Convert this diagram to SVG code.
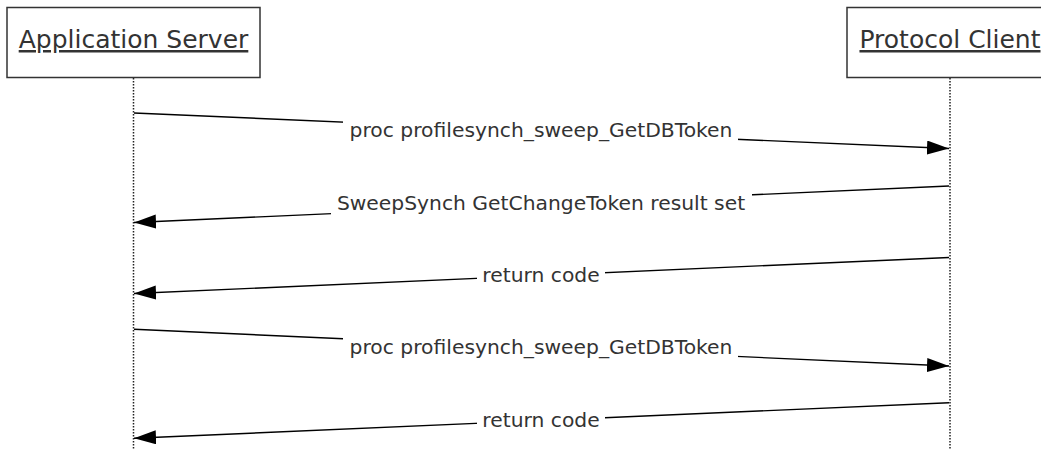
<svg xmlns="http://www.w3.org/2000/svg" width="1041" height="449" viewBox="0 0 1041 449">
<defs>
<style>
.box{fill:#fff;stroke:#333;stroke-width:1.5}
.head{font-family:"DejaVu Sans",Verdana,sans-serif;font-size:25px;fill:#333;text-anchor:middle;text-decoration:underline}
.life{stroke:#222;stroke-width:1.5;stroke-dasharray:1.5 1.5;fill:none}
.msg{stroke:#000;stroke-width:1.4;fill:none;marker-end:url(#ah)}
.lbl{font-family:"DejaVu Sans",Verdana,sans-serif;font-size:20.3px;fill:#333;text-anchor:middle}
.bg{fill:#fff}
</style>
<marker id="ah" markerUnits="userSpaceOnUse" markerWidth="24" markerHeight="16" refX="22" refY="7" orient="auto">
<path d="M0,0 L22,7 L0,14 z" fill="#000"/>
</marker>
</defs>
<rect width="1041" height="449" fill="#fff"/>
<g id="app-server">
<rect class="box" x="7" y="7.5" width="253" height="70"/>
<text class="head" x="133.5" y="48">Application Server</text>
<line class="life" x1="133.5" y1="78" x2="133.5" y2="449"/>
</g>
<g id="protocol-client">
<rect class="box" x="847" y="7.5" width="206" height="70"/>
<text class="head" x="950" y="48">Protocol Client</text>
<line class="life" x1="950" y1="78" x2="950" y2="449"/>
</g>
<g id="connectors">
<line class="msg" x1="134" y1="113" x2="949" y2="148.5"/>
<line class="msg" x1="949" y1="186" x2="134" y2="222.5"/>
<line class="msg" x1="949" y1="257.5" x2="134" y2="293.5"/>
<line class="msg" x1="134" y1="329.3" x2="949" y2="366"/>
<line class="msg" x1="949" y1="402.7" x2="134" y2="438.3"/>
</g>
<g id="labels">
<rect class="bg" x="343" y="118" width="395" height="25"/>
<text class="lbl" x="541" y="137">proc profilesynch_sweep_GetDBToken</text>
<rect class="bg" x="331" y="191" width="421" height="25"/>
<text class="lbl" x="541" y="209.5">SweepSynch GetChangeToken result set</text>
<rect class="bg" x="477" y="263" width="128" height="25"/>
<text class="lbl" x="541" y="281.5">return code</text>
<rect class="bg" x="343" y="335" width="395" height="25"/>
<text class="lbl" x="541" y="354">proc profilesynch_sweep_GetDBToken</text>
<rect class="bg" x="477" y="408" width="128" height="25"/>
<text class="lbl" x="541" y="426.5">return code</text>
</g>
</svg>
